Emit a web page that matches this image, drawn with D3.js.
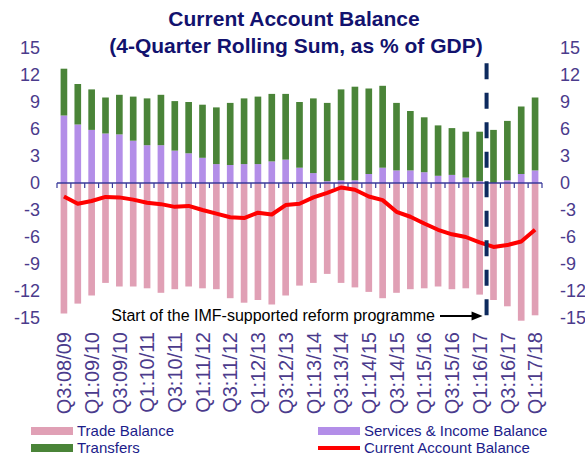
<!DOCTYPE html>
<html>
<head>
<meta charset="utf-8">
<script src="https://cdn.jsdelivr.net/npm/d3@7"></script>
<style>
  body { margin: 0; background: #fff; }
  svg { display: block; font-family: "Liberation Sans", Arial, sans-serif; }
</style>
</head>
<body>
<svg id="chart"></svg>
<script>
// quarters (fiscal year Jul-Jun)
const quarters = [
  "Q3:08/09","Q4:08/09","Q1:09/10","Q2:09/10","Q3:09/10","Q4:09/10",
  "Q1:10/11","Q2:10/11","Q3:10/11","Q4:10/11","Q1:11/12","Q2:11/12",
  "Q3:11/12","Q4:11/12","Q1:12/13","Q2:12/13","Q3:12/13","Q4:12/13",
  "Q1:13/14","Q2:13/14","Q3:13/14","Q4:13/14","Q1:14/15","Q2:14/15",
  "Q3:14/15","Q4:14/15","Q1:15/16","Q2:15/16","Q3:15/16","Q4:15/16",
  "Q1:16/17","Q2:16/17","Q3:16/17","Q4:16/17","Q1:17/18"
];
const tradeBalance = [
  -14.5, -13.4, -12.5, -11.1, -11.5, -11.5, -11.7, -12.2, -11.8, -11.5,
  -11.7, -11.8, -12.8, -13.3, -13.0, -13.5, -12.5, -11.4, -11.1, -10.1,
  -11.1, -11.6, -12.1, -12.8, -12.2, -11.8, -11.7, -11.5, -11.8, -11.7,
  -12.4, -13.0, -13.7, -15.3, -14.7
];
const servicesIncome = [
  7.5, 6.5, 5.9, 5.5, 5.4, 4.7, 4.2, 4.2, 3.6, 3.3,
  2.8, 2.1, 2.0, 2.1, 2.1, 2.4, 2.6, 1.7, 1.1, 0.2,
  0.3, 0.3, 1.0, 1.7, 1.4, 1.4, 1.2, 0.8, 0.9, 0.6,
  0.2, 0.0, 0.3, 1.0, 1.4
];
const transfers = [
  5.2, 4.5, 4.5, 4.0, 4.4, 4.9, 5.2, 5.6, 5.5, 5.7,
  5.9, 6.3, 6.9, 7.3, 7.5, 7.5, 7.3, 7.3, 8.3, 8.7,
  10.1, 10.4, 9.5, 9.1, 7.5, 6.6, 6.1, 5.6, 5.2, 5.1,
  5.5, 5.9, 6.6, 7.5, 8.1
];
const currentAccount = [
  -1.5, -2.3, -2.0, -1.55, -1.6, -1.85, -2.2, -2.35, -2.65, -2.55,
  -3.0, -3.4, -3.8, -3.9, -3.3, -3.5, -2.45, -2.3, -1.6, -1.1,
  -0.5, -0.75, -1.5, -1.9, -3.2, -3.75, -4.5, -5.2, -5.7, -6.0,
  -6.6, -7.1, -6.9, -6.5, -5.2
];
const yTicks = [15, 12, 9, 6, 3, 0, -3, -6, -9, -12, -15];
const reformStart = "Q2:16/17";
const reformNote = "Start of the IMF-supported reform programme";

const width = 585, height = 457;
const colors = {
  trade: "#e0a0b5",
  services: "#b38ee8",
  transfers: "#4a8438",
  ca: "#ff0000",
  axisText: "#4b3b8c",
  navy: "#12126e"
};

const svg = d3.select("#chart")
  .attr("width", width)
  .attr("height", height);

const x = d3.scaleBand()
  .domain(quarters)
  .range([57, 542])
  .paddingInner(0.52)
  .paddingOuter(0.26);

const y = d3.scaleLinear()
  .domain([-15, 15])
  .range([318, 48]);

// title
const title = svg.append("text")
  .attr("text-anchor", "middle")
  .attr("fill", colors.navy)
  .style("font-weight", "bold")
  .style("font-size", "21px");
title.append("tspan").attr("x", 294).attr("y", 26).text("Current Account Balance");
title.append("tspan").attr("x", 296).attr("y", 53).text("(4-Quarter Rolling Sum, as % of GDP)");

// y axis labels, left and right
svg.append("g").selectAll("text")
  .data(yTicks)
  .join("text")
  .attr("x", 40)
  .attr("y", d => y(d))
  .attr("dy", "0.36em")
  .attr("text-anchor", "end")
  .attr("fill", colors.axisText)
  .style("font-size", "18px")
  .text(d => d);

svg.append("g").selectAll("text")
  .data(yTicks)
  .join("text")
  .attr("x", 560)
  .attr("y", d => y(d))
  .attr("dy", "0.36em")
  .attr("fill", colors.axisText)
  .style("font-size", "18px")
  .text(d => d);

// bars
const bars = svg.append("g");
bars.selectAll("rect.trade")
  .data(quarters)
  .join("rect")
  .attr("class", "trade")
  .attr("x", d => x(d))
  .attr("width", x.bandwidth())
  .attr("y", y(0))
  .attr("height", (d, i) => y(tradeBalance[i]) - y(0))
  .attr("fill", colors.trade);

bars.selectAll("rect.services")
  .data(quarters)
  .join("rect")
  .attr("class", "services")
  .attr("x", d => x(d))
  .attr("width", x.bandwidth())
  .attr("y", (d, i) => y(servicesIncome[i]))
  .attr("height", (d, i) => y(0) - y(servicesIncome[i]))
  .attr("fill", colors.services);

bars.selectAll("rect.transfers")
  .data(quarters)
  .join("rect")
  .attr("class", "transfers")
  .attr("x", d => x(d))
  .attr("width", x.bandwidth())
  .attr("y", (d, i) => y(servicesIncome[i] + transfers[i]))
  .attr("height", (d, i) => y(servicesIncome[i]) - y(servicesIncome[i] + transfers[i]))
  .attr("fill", colors.transfers);

// zero axis with ticks between bars
const edge = (i) => x.range()[0] + x.step() * i;
const axis = svg.append("g").attr("stroke", "#3a3a9a");
axis.append("line")
  .attr("x1", x.range()[0]).attr("x2", x.range()[1])
  .attr("y1", y(0)).attr("y2", y(0))
  .attr("stroke-width", 1.5);
axis.selectAll("line.tick")
  .data(d3.range(quarters.length + 1))
  .join("line")
  .attr("class", "tick")
  .attr("x1", d => edge(d)).attr("x2", d => edge(d))
  .attr("y1", y(0)).attr("y2", y(0) + 5)
  .attr("stroke-width", 1.2);

// current account line
svg.append("path")
  .datum(currentAccount)
  .attr("fill", "none")
  .attr("stroke", colors.ca)
  .attr("stroke-width", 4)
  .attr("stroke-linejoin", "round")
  .attr("d", d3.line()
    .x((d, i) => x(quarters[i]) + x.bandwidth() / 2)
    .y(d => y(d)));

// reform programme marker
const rx = x(reformStart) - x.step() * x.paddingInner() / 2;
svg.append("line")
  .attr("x1", rx).attr("x2", rx)
  .attr("y1", y(13.3)).attr("y2", y(-15))
  .attr("stroke", "#0d2a5e")
  .attr("stroke-width", 4)
  .attr("stroke-dasharray", "16,13.5");

svg.append("text")
  .attr("x", 435)
  .attr("y", 321)
  .attr("text-anchor", "end")
  .attr("fill", "#000")
  .style("font-size", "16px")
  .text(reformNote);

svg.append("line")
  .attr("x1", 440).attr("x2", rx - 12)
  .attr("y1", 316).attr("y2", 316)
  .attr("stroke", "#000")
  .attr("stroke-width", 2);
svg.append("path")
  .attr("d", `M${rx - 4},316 L${rx - 15},311.5 L${rx - 15},320.5 Z`)
  .attr("fill", "#000");

// x labels every second quarter
svg.append("g").selectAll("text")
  .data(quarters.filter((d, i) => i % 2 === 0))
  .join("text")
  .attr("transform", d => `translate(${x(d) + x.bandwidth() / 2},332) rotate(-90)`)
  .attr("dy", "0.36em")
  .attr("text-anchor", "end")
  .attr("fill", colors.axisText)
  .style("font-size", "20px")
  .text(d => d);

// legend
const legend = [
  { label: "Trade Balance", color: colors.trade, x: 31, y: 431, line: false },
  { label: "Transfers", color: colors.transfers, x: 31, y: 448, line: false },
  { label: "Services & Income Balance", color: colors.services, x: 318, y: 431, line: false },
  { label: "Current Account Balance", color: colors.ca, x: 318, y: 448, line: true }
];
const lg = svg.append("g").selectAll("g")
  .data(legend)
  .join("g")
  .attr("transform", d => `translate(${d.x},${d.y})`);
lg.filter(d => !d.line).append("rect")
  .attr("x", 0).attr("y", -4)
  .attr("width", 42).attr("height", 8)
  .attr("fill", d => d.color);
lg.filter(d => d.line).append("line")
  .attr("x1", 0).attr("x2", 42)
  .attr("stroke", d => d.color)
  .attr("stroke-width", 4);
lg.append("text")
  .attr("x", 46)
  .attr("dy", "0.35em")
  .attr("fill", "#1c1c8a")
  .style("font-size", "15px")
  .text(d => d.label);
</script>
</body>
</html>
